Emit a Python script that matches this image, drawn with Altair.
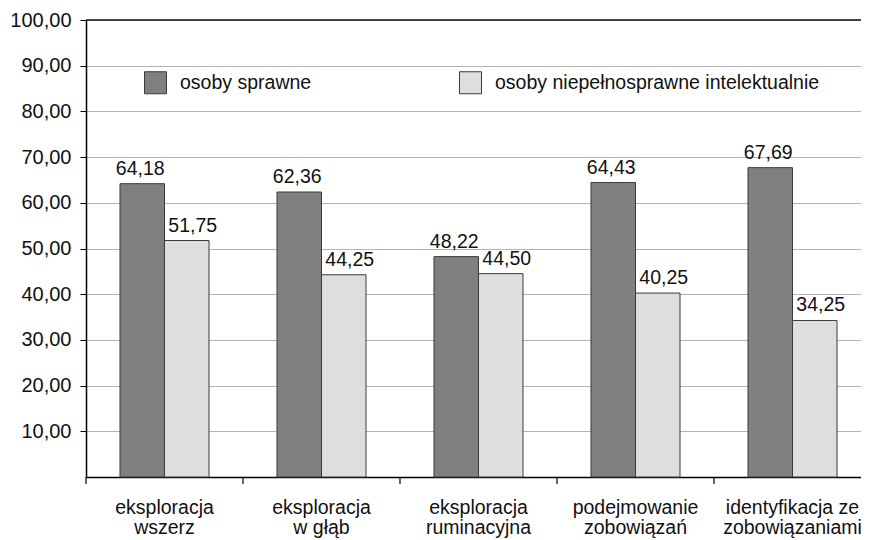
import altair as alt
import pandas as pd

categories = ["eksploracja|wszerz", "eksploracja|w głąb", "eksploracja|ruminacyjna",
              "podejmowanie|zobowiązań", "identyfikacja ze|zobowiązaniami"]
series_names = ["osoby sprawne", "osoby niepełnosprawne intelektualnie"]
sprawne = [64.18, 62.36, 48.22, 64.43, 67.69]
niepelnosprawne = [51.75, 44.25, 44.50, 40.25, 34.25]
y_ticks = [10, 20, 30, 40, 50, 60, 70, 80, 90, 100]
colors = ["#808080", "#dedede"]

rows = []
for c, a, b in zip(categories, sprawne, niepelnosprawne):
    rows.append({"cat": c, "series": series_names[0], "value": a})
    rows.append({"cat": c, "series": series_names[1], "value": b})
df = pd.DataFrame(rows)

FONT = "Liberation Sans"
FS = 19.5

x_scale = alt.Scale(paddingInner=0, paddingOuter=0, range=[0, 785])
x_enc = alt.X("cat:N", sort=categories, title=None, scale=x_scale,
              axis=alt.Axis(labelExpr="split(datum.label, '|')", labelAngle=0,
                            tickSize=0, labelPadding=21, labelFontSize=FS,
                            labelFont=FONT, labelColor="#111", labelLineHeight=20,
                            domainColor="#000", domainWidth=1.5, grid=False,
                            labelBaseline="top"))
y_scale = alt.Scale(domain=[0, 100], nice=False)
y_axis = alt.Axis(values=y_ticks, labelExpr="replace(format(datum.value, '.2f'), '.', ',')",
                  tickSize=6, tickColor="#000", labelPadding=9, labelFontSize=20,
                  labelFont=FONT, labelColor="#111", domainColor="#000", domainWidth=1.5,
                  grid=True, gridColor="#b3b3b3", gridWidth=1)

base = alt.Chart(df)

bars = base.mark_bar(stroke="#3a3a3a", strokeWidth=1).encode(
    x=x_enc,
    xOffset=alt.XOffset("series:N", sort=series_names,
                        scale=alt.Scale(paddingOuter=0.764, paddingInner=0)),
    y=alt.Y("value:Q", scale=y_scale, axis=y_axis, title=None),
    color=alt.Color("series:N", sort=series_names,
                    scale=alt.Scale(domain=series_names, range=colors),
                    legend=alt.Legend(orient="none", legendX=58, legendY=51,
                                      direction="horizontal", title=None,
                                      symbolType="square", symbolSize=484,
                                      symbolStrokeColor="#3a3a3a", symbolStrokeWidth=1,
                                      labelFontSize=FS, labelFont=FONT, labelColor="#111",
                                      labelOffset=13, columnPadding=145, padding=0,
                                      labelLimit=500)),
)

def labels(name, dx):
    return base.transform_filter(alt.datum.series == name).transform_calculate(
        lab="replace(format(datum.value, '.2f'), '.', ',')"
    ).mark_text(dy=-9, dx=dx, baseline="alphabetic", fontSize=FS, font=FONT, color="#111").encode(
        x=alt.X("cat:N", sort=categories),
        xOffset=alt.XOffset("series:N", sort=series_names),
        y=alt.Y("value:Q", scale=y_scale),
        text="lab:N",
    )

top_line = alt.Chart(pd.DataFrame({"y": [100]})).mark_rule(color="#111", strokeWidth=1.5).encode(
    y=alt.Y("y:Q", scale=y_scale)
)

ticks = alt.Chart(pd.DataFrame({"cat": categories})).mark_rule(color="#000", strokeWidth=1.2).encode(
    x=alt.X("cat:N", sort=categories, bandPosition=0),
    y=alt.value(457), y2=alt.value(464),
)

chart = alt.layer(bars, labels(series_names[0], -2), labels(series_names[1], 6), top_line, ticks).properties(
    width=775, height=457,
    autosize=alt.AutoSizeParams(type="none"),
    padding={"left": 78, "top": 12, "right": 0, "bottom": 63},
    background="white",
).configure_view(stroke=None)

chart.save("out.html", embed_options={"renderer": "svg", "actions": False})
